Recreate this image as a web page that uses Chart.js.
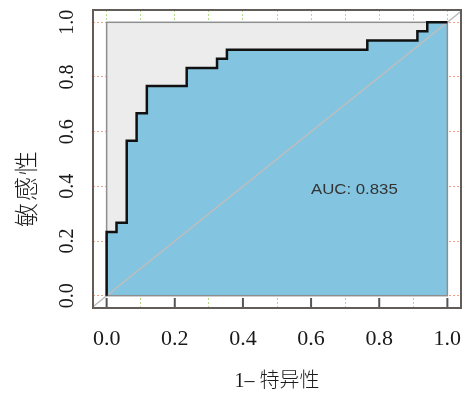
<!DOCTYPE html>
<html>
<head>
<meta charset="utf-8">
<script src="https://cdn.jsdelivr.net/npm/chart.js@4/dist/chart.umd.min.js"></script>
<style>
  html, body { margin: 0; padding: 0; background: #fff; }
</style>
</head>
<body>
<canvas id="roc" width="467" height="394"></canvas>
<script>
// ROC step curve corners: 1 - specificity (x) and sensitivity (y)
const fpr = [0, 0, 0.029, 0.029, 0.059, 0.059, 0.088, 0.088, 0.118, 0.118, 0.235, 0.235,
  0.324, 0.324, 0.353, 0.353, 0.765, 0.765, 0.912, 0.912, 0.941, 0.941, 1];
const tpr = [0, 0.233, 0.233, 0.267, 0.267, 0.567, 0.567, 0.667, 0.667, 0.767, 0.767, 0.833,
  0.833, 0.867, 0.867, 0.9, 0.9, 0.933, 0.933, 0.967, 0.967, 1, 1];

// chance line
const diagX = [-0.04, 1.04];
const diagY = [-0.04, 1.04];

const xTicks = [0, 0.1, 0.2, 0.3, 0.4, 0.5, 0.6, 0.7, 0.8, 0.9, 1];
const xTickLabels = ['0.0', '', '0.2', '', '0.4', '', '0.6', '', '0.8', '', '1.0'];
const yTicks = [0, 0.2, 0.4, 0.6, 0.8, 1];
const yTickLabels = ['0.0', '0.2', '0.4', '0.6', '0.8', '1.0'];

const xTitle = '1– 特异性';
const yTitle = '敏感性';
const aucText = 'AUC: 0.835';
const aucPos = { x: 0.727, y: 0.385 };

const curvePts = fpr.map((v, i) => ({ x: v, y: tpr[i] }));
const diagPts = diagX.map((v, i) => ({ x: v, y: diagY[i] }));

// labels may hang over the plot edges, don't let them shrink the frame
function noOverhang(s) {
  s.paddingTop = 0;
  s.paddingBottom = 0;
  s.paddingLeft = 0;
  s.paddingRight = 0;
}

const rocDecor = {
  id: 'rocDecor',
  beforeDatasetsDraw(chart) {
    const { ctx, scales: { x, y } } = chart;
    const l = x.getPixelForValue(0), r = x.getPixelForValue(1);
    const t = y.getPixelForValue(1), b = y.getPixelForValue(0);
    ctx.save();
    ctx.fillStyle = '#ececec';
    ctx.fillRect(l, t, r - l, b - t);
    ctx.restore();
  },
  beforeDatasetDraw(chart, args) {
    if (args.index !== 0) return;
    const { ctx, scales: { x, y } } = chart;
    const l = x.getPixelForValue(0), r = x.getPixelForValue(1);
    const t = y.getPixelForValue(1), b = y.getPixelForValue(0);
    ctx.save();
    ctx.strokeStyle = '#8f8f8f';
    ctx.lineWidth = 1.5;
    ctx.strokeRect(l, t, r - l, b - t);
    ctx.restore();
  },
  afterDatasetsDraw(chart) {
    const { ctx, chartArea: a, scales: { x, y } } = chart;
    ctx.save();
    // tick marks on bottom edge
    ctx.strokeStyle = '#555';
    ctx.lineWidth = 2;
    xTicks.forEach((v, i) => {
      if (!xTickLabels[i]) return;
      const px = x.getPixelForValue(v);
      ctx.beginPath();
      ctx.moveTo(px, a.bottom);
      ctx.lineTo(px, a.bottom - 10);
      ctx.stroke();
    });
    // outer frame
    ctx.strokeStyle = '#625d59';
    ctx.lineWidth = 2;
    ctx.strokeRect(a.left, a.top, a.right - a.left, a.bottom - a.top);
    ctx.restore();

    // AUC label
    ctx.save();
    ctx.translate(x.getPixelForValue(aucPos.x), y.getPixelForValue(aucPos.y));
    ctx.scale(1.2, 1);
    ctx.fillStyle = '#333';
    ctx.font = '14px "Liberation Sans", Arial, sans-serif';
    ctx.textAlign = 'center';
    ctx.textBaseline = 'middle';
    ctx.fillText(aucText, 0, 0);
    ctx.restore();

    // y title, sits a bit below the middle like the original
    ctx.save();
    ctx.translate(26, 189);
    ctx.rotate(-Math.PI / 2);
    ctx.fillStyle = '#1a1a1a';
    ctx.font = '300 24px "Noto Sans CJK SC", sans-serif';
    ctx.letterSpacing = '2px';
    ctx.textAlign = 'center';
    ctx.textBaseline = 'middle';
    ctx.fillText(yTitle, 1, 0);
    ctx.restore();
  }
};

new Chart(document.getElementById('roc'), {
  type: 'line',
  data: {
    datasets: [
      {
        data: curvePts,
        borderColor: '#111',
        borderWidth: 2.5,
        pointRadius: 0,
        fill: false,
        order: 0
      },
      {
        data: diagPts,
        borderColor: '#bdbdbd',
        borderWidth: 1.5,
        pointRadius: 0,
        fill: false,
        order: 1
      },
      {
        data: curvePts,
        borderWidth: 0,
        borderColor: 'rgba(0,0,0,0)',
        backgroundColor: '#83c5e0',
        pointRadius: 0,
        fill: 'origin',
        order: 2
      }
    ]
  },
  options: {
    responsive: false,
    animation: false,
    devicePixelRatio: 1,
    layout: { padding: { top: 10, right: 6, left: 0, bottom: 0 } },
    plugins: {
      legend: { display: false },
      tooltip: { enabled: false }
    },
    scales: {
      x: {
        type: 'linear',
        position: 'bottom',
        min: -0.04,
        max: 1.04,
        afterBuildTicks: s => { s.ticks = xTicks.map(v => ({ value: v })); },
        afterFit: s => { s.height = 86; noOverhang(s); },
        grid: { color: '#b3d98b', lineWidth: 1, drawTicks: false },
        border: { display: false, dash: [2, 2] },
        ticks: {
          autoSkip: false,
          maxRotation: 0,
          padding: 18,
          color: '#1a1a1a',
          font: { family: '"Liberation Serif", serif', size: 22 },
          callback: (v, i) => xTickLabels[i]
        },
        title: {
          display: true,
          text: xTitle,
          color: '#1a1a1a',
          font: { family: '"Liberation Serif", "Noto Sans CJK SC", serif', size: 20, weight: '300' },
          padding: { top: 0, bottom: 0 }
        }
      },
      y: {
        type: 'linear',
        min: -0.045,
        max: 1.045,
        afterBuildTicks: s => { s.ticks = yTicks.map(v => ({ value: v })); },
        afterFit: s => { s.width = 93; noOverhang(s); },
        grid: { color: '#f2a283', lineWidth: 1, drawTicks: false },
        border: { display: false, dash: [2, 2] },
        ticks: {
          autoSkip: false,
          minRotation: 90,
          maxRotation: 90,
          crossAlign: 'center',
          padding: 13,
          color: '#1a1a1a',
          font: { family: '"Liberation Serif", serif', size: 20 },
          callback: (v, i) => yTickLabels[i]
        },
        title: { display: false }
      }
    }
  },
  plugins: [rocDecor]
});
</script>
</body>
</html>
